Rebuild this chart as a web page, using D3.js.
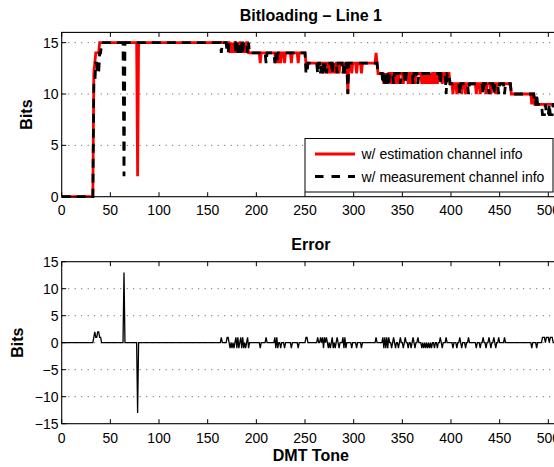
<!DOCTYPE html>
<html><head><meta charset="utf-8">
<script src="https://cdn.jsdelivr.net/npm/d3@7"></script>
<style>
body{margin:0;background:#fff;overflow:hidden}
text{font-family:"Liberation Sans",Arial,Helvetica,sans-serif;fill:#000}
</style>
</head><body>
<svg id="chart" width="554" height="467"></svg>
<script>
// ---------------- data ----------------
const toneCount = 512;
const xTickValues = [0, 50, 100, 150, 200, 250, 300, 350, 400, 450, 500];
const bitsTickValues = [0, 5, 10, 15];
const errorTickValues = [-15, -10, -5, 0, 5, 10, 15];
const legendLabels = ["w/ estimation channel info", "w/ measurement channel info"];

// bit-loading step levels: [first tone, bits]
const estimationSteps = [[0,0],[33,12],[34,13],[35,14],[39,15],[193,14],[251,13],[325,12],[399,11],[462,10],[486,9]];
const measurementSteps = [[0,0],[33,11],[35,13],[37,12],[39,14],[41,15],[193,14],[251,13],[325,12],[399,11],[462,10],[486,9]];

// single tones that leave the step level: [tone, bits]
const estimationSpikes = [
  [78,2],
  [173,14],[175,14],[177,14],[180,14],[182,14],[185,14],[187,14],[189,14],[192,14],
  [204,13],[220,13],[222,13],[225,13],[229,13],[236,13],[243,13],
  [269,12],[274,12],[276,12],[279,12],[281,12],[285,12],[290,12],[292,12],[294,10],[298,12],[303,12],[308,12],[323,14],
  [331,11],[333,11],[335,11],[339,11],[343,11],[346,11],[351,11],[356,11],[359,11],[363,11],
  [370,11],[372,11],[374,11],[376,11],[378,11],[380,11],[383,11],[386,11],[391,11],[395,11],
  [402,10],[406,10],[411,10],[415,10],[426,10],[430,10],[436,10],[441,10],[446,10],
  [483,9]
];
const measurementSpikes = [
  [64,2],
  [164,14],[170,14],[171,14],[179,14],[181,14],[184,14],[186,14],[191,14],
  [210,13],[219,13],[221,13],
  [251,12],[252,12],[263,12],[266,12],[268,12],[270,12],[272,12],[278,12],[283,12],[289,12],[291,12],[294,10],
  [330,11],[332,11],[334,11],[336,11],[341,11],[348,11],[353,11],[361,11],[366,11],[389,11],[395,10],
  [409,10],[418,10],[433,10],[439,10],[444,10],[449,10],[455,10],
  [488,10],
  [494,8],[495,8],[496,8],[498,8],[499,8],[500,8],[502,8],[503,8],[504,8]
];

// ---------------- build series ----------------
function buildSeries(steps, spikes){
  const out = [];
  let s = 0;
  for (let t = 0; t < toneCount; t++){
    while (s + 1 < steps.length && steps[s+1][0] <= t) s++;
    out.push(steps[s][1]);
  }
  spikes.forEach(([t,v]) => { out[t] = v; });
  return out;
}
const estimation = buildSeries(estimationSteps, estimationSpikes);
const measurement = buildSeries(measurementSteps, measurementSpikes);
const errorBits = estimation.map((v,i) => v - measurement[i]);

// ---------------- layout ----------------
const svg = d3.select("#chart");
const FONT = 14, BOLD = 16;
const x = d3.scaleLinear().domain([0, 512]).range([61.7, 560]);
const yTop = d3.scaleLinear().domain([0, 16]).range([196.7, 32.4]);
const yErr = d3.scaleLinear().domain([-15, 15]).range([423.7, 261.7]);
const fmt = v => v < 0 ? "\u2212" + Math.abs(v) : String(v);

function drawAxes(y, yTicks, tickLabelBaseline){
  const [y0, y1] = y.range();
  const g = svg.append("g");
  // dotted horizontal grid
  yTicks.filter(v => y(v) > y1 + 0.5 && y(v) < y0 - 0.5).forEach(v => {
    g.append("line").attr("x1", x.range()[0]).attr("x2", x.range()[1])
      .attr("y1", y(v)).attr("y2", y(v))
      .attr("stroke", "#555").attr("stroke-width", 1).attr("stroke-dasharray", "1,5.5");
  });
  // ticks (inward, bottom and top)
  xTickValues.forEach(v => {
    g.append("line").attr("x1", x(v)).attr("x2", x(v)).attr("y1", y0).attr("y2", y0 - 4.5).attr("stroke", "#000");
    g.append("line").attr("x1", x(v)).attr("x2", x(v)).attr("y1", y1).attr("y2", y1 + 4.5).attr("stroke", "#000");
    g.append("text").attr("x", x(v)).attr("y", tickLabelBaseline).attr("text-anchor", "middle")
      .attr("font-size", FONT).text(fmt(v));
  });
  yTicks.forEach(v => {
    g.append("line").attr("x1", x.range()[0]).attr("x2", x.range()[0] + 4.5).attr("y1", y(v)).attr("y2", y(v)).attr("stroke", "#000");
    g.append("text").attr("x", 58.5).attr("y", y(v)).attr("dy", "0.36em").attr("text-anchor", "end")
      .attr("font-size", FONT).text(fmt(v));
  });
  return g;
}
function drawFrame(y){
  const [y0, y1] = y.range();
  svg.append("rect").attr("x", x.range()[0]).attr("y", y1)
    .attr("width", x.range()[1] - x.range()[0]).attr("height", y0 - y1)
    .attr("fill", "none").attr("stroke", "#000").attr("stroke-width", 1.1);
}

// ---------- top: bit loading ----------
drawAxes(yTop, bitsTickValues, 215);
const lineTop = d3.line().x((d,i) => x(i)).y(d => yTop(d));
svg.append("path").datum(estimation).attr("d", lineTop)
  .attr("fill", "none").attr("stroke", "#ff0000").attr("stroke-width", 2.8);
svg.append("path").datum(measurement).attr("d", lineTop)
  .attr("fill", "none").attr("stroke", "#000").attr("stroke-width", 2.8).attr("stroke-dasharray", "9,6");
drawFrame(yTop);

const cx = (x.range()[0] + x.range()[1]) / 2;
svg.append("text").attr("x", cx).attr("y", 21).attr("text-anchor", "middle")
  .attr("font-size", BOLD).attr("font-weight", "bold").text("Bitloading \u2013 Line 1");
svg.append("text").attr("transform", "translate(32," + ((yTop.range()[0] + yTop.range()[1]) / 2) + ") rotate(-90)")
  .attr("text-anchor", "middle").attr("font-size", BOLD).attr("font-weight", "bold").text("Bits");

// legend
const lg = svg.append("g");
lg.append("rect").attr("x", 305).attr("y", 138.5).attr("width", 248).attr("height", 53.5)
  .attr("fill", "#fff").attr("stroke", "#000").attr("stroke-width", 1);
lg.append("line").attr("x1", 315).attr("x2", 355).attr("y1", 154).attr("y2", 154)
  .attr("stroke", "#ff0000").attr("stroke-width", 2.8);
lg.append("line").attr("x1", 315).attr("x2", 355).attr("y1", 176.5).attr("y2", 176.5)
  .attr("stroke", "#000").attr("stroke-width", 2.8).attr("stroke-dasharray", "8.5,8");
legendLabels.forEach((t,i) => {
  lg.append("text").attr("x", 361.5).attr("y", 159 + i * 22.6).attr("font-size", FONT).text(t);
});

// ---------- bottom: error ----------
drawAxes(yErr, errorTickValues, 442.5);
const lineErr = d3.line().x((d,i) => x(i)).y(d => yErr(d));
svg.append("path").datum(errorBits).attr("d", lineErr)
  .attr("fill", "none").attr("stroke", "#000").attr("stroke-width", 1.3);
drawFrame(yErr);

svg.append("text").attr("x", cx).attr("y", 249.5).attr("text-anchor", "middle")
  .attr("font-size", BOLD).attr("font-weight", "bold").text("Error");
svg.append("text").attr("x", cx).attr("y", 461).attr("text-anchor", "middle")
  .attr("font-size", BOLD).attr("font-weight", "bold").text("DMT Tone");
svg.append("text").attr("transform", "translate(23," + ((yErr.range()[0] + yErr.range()[1]) / 2) + ") rotate(-90)")
  .attr("text-anchor", "middle").attr("font-size", BOLD).attr("font-weight", "bold").text("Bits");
</script>
</body></html>
